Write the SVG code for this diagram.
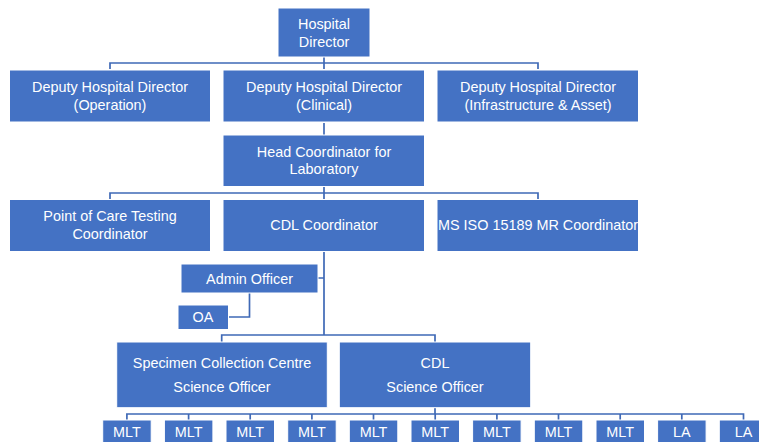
<svg xmlns="http://www.w3.org/2000/svg" width="759" height="442" viewBox="0 0 759 442">
  <style>
    .box { fill: #4472C4; stroke: #ffffff; stroke-width: 1; }
    .lbl { fill: #ffffff; font-family: "Liberation Sans", Arial, sans-serif; font-size: 14.4px; text-anchor: middle; }
    .wire { fill: none; stroke: #3F69B6; stroke-width: 1.7; }
  </style>
  <rect width="759" height="442" fill="#ffffff"/>

  <!-- reporting lines -->
  <g id="connectors" class="wire">
    <path d="M110,69 V63 H538 V69 M324,57 V69"/>
    <path d="M324,123 V135"/>
    <path d="M110,199 V193 H538 V199 M324,187 V199"/>
    <path d="M324,252 V335 M318,278 H324"/>
    <path d="M249.5,293 V317 H229"/>
    <path d="M221.7,342 V335 H435 V342"/>
    <path d="M435,408 V414 M126.9,420 V414 H743.5 V420
             M188.6,414 V420 M250.2,414 V420 M311.9,414 V420 M373.5,414 V420
             M435.2,414 V420 M496.9,414 V420 M558.5,414 V420 M620.2,414 V420 M681.8,414 V420"/>
  </g>

  <g id="hospital-director">
    <rect class="box" x="278" y="8" width="92" height="49"/>
    <text class="lbl" x="324" y="29">Hospital</text>
    <text class="lbl" x="324" y="46.5">Director</text>
  </g>

  <g id="deputy-operation">
    <rect class="box" x="9.5" y="70" width="201" height="52"/>
    <text class="lbl" x="110" y="92">Deputy Hospital Director</text>
    <text class="lbl" x="110" y="109.5">(Operation)</text>
  </g>

  <g id="deputy-clinical">
    <rect class="box" x="223" y="70" width="201.5" height="52"/>
    <text class="lbl" x="324" y="92">Deputy Hospital Director</text>
    <text class="lbl" x="324" y="109.5">(Clinical)</text>
  </g>

  <g id="deputy-infrastructure">
    <rect class="box" x="437" y="70" width="201.5" height="52"/>
    <text class="lbl" x="538" y="92">Deputy Hospital Director</text>
    <text class="lbl" x="538" y="109.5">(Infrastructure &amp; Asset)</text>
  </g>

  <g id="head-coordinator">
    <rect class="box" x="223" y="135" width="201.5" height="51.5"/>
    <text class="lbl" x="324" y="156.5">Head Coordinator for</text>
    <text class="lbl" x="324" y="174">Laboratory</text>
  </g>

  <g id="poct-coordinator">
    <rect class="box" x="9.5" y="199.5" width="201" height="52"/>
    <text class="lbl" x="110" y="221">Point of Care Testing</text>
    <text class="lbl" x="110" y="238.5">Coordinator</text>
  </g>

  <g id="cdl-coordinator">
    <rect class="box" x="223" y="199.5" width="201.5" height="52"/>
    <text class="lbl" x="324" y="230">CDL Coordinator</text>
  </g>

  <g id="ms-iso-coordinator">
    <rect class="box" x="437" y="199.5" width="201.5" height="52"/>
    <text class="lbl" x="538" y="230" font-size="14">MS ISO 15189 MR Coordinator</text>
  </g>

  <g id="admin-officer">
    <rect class="box" x="181" y="264" width="137" height="29"/>
    <text class="lbl" x="249.5" y="283.5">Admin Officer</text>
  </g>

  <g id="oa">
    <rect class="box" x="178" y="305" width="50.5" height="24.5"/>
    <text class="lbl" x="203" y="322">OA</text>
  </g>

  <g id="scc-science-officer">
    <rect class="box" x="116.7" y="342" width="210.6" height="65.7"/>
    <text class="lbl" x="222" y="367.7">Specimen Collection Centre</text>
    <text class="lbl" x="222" y="392.3">Science Officer</text>
  </g>

  <g id="cdl-science-officer">
    <rect class="box" x="339.3" y="342" width="191.4" height="65.7"/>
    <text class="lbl" x="435" y="367.7">CDL</text>
    <text class="lbl" x="435" y="392.3">Science Officer</text>
  </g>

  <g id="mlt-1"><rect class="box" x="102.7" y="420" width="48.5" height="30"/><text class="lbl" x="126.9" y="437">MLT</text></g>
  <g id="mlt-2"><rect class="box" x="164.4" y="420" width="48.5" height="30"/><text class="lbl" x="188.6" y="437">MLT</text></g>
  <g id="mlt-3"><rect class="box" x="226" y="420" width="48.5" height="30"/><text class="lbl" x="250.2" y="437">MLT</text></g>
  <g id="mlt-4"><rect class="box" x="287.7" y="420" width="48.5" height="30"/><text class="lbl" x="311.9" y="437">MLT</text></g>
  <g id="mlt-5"><rect class="box" x="349.3" y="420" width="48.5" height="30"/><text class="lbl" x="373.5" y="437">MLT</text></g>
  <g id="mlt-6"><rect class="box" x="411" y="420" width="48.5" height="30"/><text class="lbl" x="435.2" y="437">MLT</text></g>
  <g id="mlt-7"><rect class="box" x="472.6" y="420" width="48.5" height="30"/><text class="lbl" x="496.9" y="437">MLT</text></g>
  <g id="mlt-8"><rect class="box" x="534.3" y="420" width="48.5" height="30"/><text class="lbl" x="558.5" y="437">MLT</text></g>
  <g id="mlt-9"><rect class="box" x="596" y="420" width="48.5" height="30"/><text class="lbl" x="620.2" y="437">MLT</text></g>
  <g id="la-1"><rect class="box" x="657.6" y="420" width="48.5" height="30"/><text class="lbl" x="681.8" y="437">LA</text></g>
  <g id="la-2"><rect class="box" x="719.3" y="420" width="48.5" height="30"/><text class="lbl" x="743.5" y="437">LA</text></g>
</svg>
